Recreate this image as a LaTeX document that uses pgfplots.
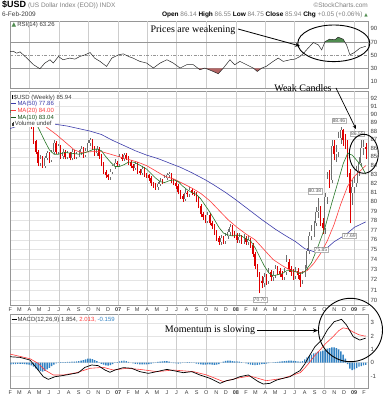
\documentclass[border=0pt]{standalone}
\usepackage{fontspec}
\setmainfont{Liberation Sans}
\newfontfamily\annfont{Liberation Serif}
\newfontfamily\symfont{DejaVu Sans}
\usepackage{pgfplots}
\usepackage{pgfplotstable}
\pgfplotsset{compat=1.18}
\usetikzlibrary{arrows.meta}

\definecolor{candred}{RGB}{222,0,0}
\definecolor{upgray}{RGB}{110,110,110}
\definecolor{ma50c}{RGB}{60,60,170}
\definecolor{ma20c}{RGB}{255,60,60}
\definecolor{ma10c}{RGB}{40,120,40}
\definecolor{histblue}{RGB}{50,130,195}
\definecolor{rsigreen}{RGB}{80,140,80}
\definecolor{rsired}{RGB}{180,100,100}
\definecolor{gridc}{RGB}{228,228,228}
\definecolor{vgridc}{RGB}{205,205,205}
\definecolor{framec}{RGB}{150,150,150}
\definecolor{txt}{RGB}{60,60,60}

% weekly candles, x = weeks since 3-Feb-2006 : open high low close
\pgfplotstableread[row sep=\\]{
x o h l c\\
0 90.2 90.9 90.0 90.6\\ 2 90.2 91.1 90.0 90.9\\ 4 90.4 91.0 90.2 90.8\\ 5 90.8 91.3 90.6 91.0\\
13 84.3 85.2 83.9 84.8\\ 15 84.0 85.1 83.7 84.9\\ 16 84.9 85.7 84.6 85.4\\ 18 84.6 85.8 84.4 85.5\\
19 85.5 87.0 85.3 86.6\\ 21 85.6 86.5 85.3 86.2\\ 23 85.1 85.9 84.8 85.6\\ 25 85.0 85.7 84.7 85.4\\
27 84.9 85.9 84.6 85.6\\ 29 85.0 85.6 84.7 85.3\\ 30 85.3 85.8 85.0 85.5\\ 31 85.5 86.2 85.2 85.9\\
33 85.2 86.0 85.0 85.7\\ 34 85.7 86.9 85.5 86.6\\ 35 86.6 87.2 86.3 86.9\\ 38 85.4 86.2 85.1 85.9\\
44 82.7 83.6 82.4 83.3\\ 45 83.3 84.1 83.1 83.9\\ 46 83.9 84.7 83.6 84.3\\ 48 84.2 85.3 84.0 85.0\\
50 84.8 85.4 84.5 85.2\\ 55 83.7 84.5 83.5 84.2\\ 58 83.2 83.9 82.9 83.6\\ 65 81.6 82.2 81.3 81.9\\
66 81.9 82.6 81.7 82.3\\ 68 82.2 82.9 82.0 82.6\\ 69 82.6 83.2 82.4 82.9\\ 70 82.9 83.3 82.6 83.0\\
77 80.3 81.4 80.1 81.0\\ 79 80.8 81.6 80.5 81.3\\ 87 78.0 78.9 77.7 78.6\\ 93 75.8 76.5 75.5 76.2\\
95 75.9 76.7 75.6 76.4\\ 96 76.4 77.1 76.1 76.8\\ 97 76.8 77.6 76.5 77.3\\ 101 76.0 76.7 75.7 76.3\\
103 75.9 76.6 75.6 76.2\\ 105 75.8 76.4 75.5 76.0\\ 112 71.7 72.7 71.3 72.3\\ 114 71.9 73.2 71.6 72.8\\
116 72.3 72.9 71.9 72.5\\ 117 72.5 73.5 72.2 73.1\\ 121 72.3 73.2 72.0 72.8\\ 122 72.8 74.5 72.5 73.8\\
126 72.4 73.3 72.1 72.9\\ 129 72.0 72.9 71.6 72.6\\ 130 72.6 73.5 72.3 73.2\\ 131 73.2 75.2 73.0 74.9\\
132 74.9 76.8 74.6 76.4\\ 133 76.4 77.5 76.0 76.9\\ 134 76.9 78.0 76.3 77.7\\ 135 77.7 79.4 77.4 78.9\\
136 78.9 80.38 78.3 79.0\\ 139 77.2 81.0 76.6 80.5\\ 140 80.5 83.3 79.8 82.5\\ 142 82.4 87.0 82.0 86.3\\
144 85.3 86.4 84.4 85.6\\ 145 85.6 87.9 85.0 87.2\\ 146 87.2 88.46 86.5 88.1\\ 151 81.0 82.4 79.7 81.6\\
152 81.6 82.8 80.9 82.0\\ 153 82.0 84.0 81.6 83.4\\ 154 83.4 85.0 82.8 84.3\\ 155 84.3 86.9 84.0 86.0\\
156 86.0 86.9 85.2 86.1\\
}\upc

\pgfplotstableread[row sep=\\]{
x o h l c\\
1 90.6 90.9 90.0 90.2\\ 3 90.9 91.1 90.2 90.4\\ 6 91.0 91.2 90.1 90.3\\ 7 90.3 90.5 89.6 89.8\\
8 89.8 90.1 89.4 89.6\\ 9 89.6 89.8 88.2 88.4\\ 10 88.4 88.6 86.5 86.8\\ 11 86.8 87.0 85.3 85.6\\
12 85.6 85.8 83.9 84.3\\ 14 84.8 85.1 83.7 84.0\\ 17 85.4 85.6 84.3 84.6\\ 20 86.6 86.8 85.3 85.6\\
22 86.2 86.4 84.8 85.1\\ 24 85.6 85.8 84.7 85.0\\ 26 85.4 85.6 84.6 84.9\\ 28 85.6 85.8 84.7 85.0\\
32 85.9 86.1 84.9 85.2\\ 36 86.9 87.1 85.8 86.0\\ 37 86.0 86.2 85.1 85.4\\ 39 85.9 86.1 84.8 85.1\\
40 85.1 85.3 83.9 84.2\\ 41 84.2 84.4 83.0 83.3\\ 42 83.3 83.5 82.6 82.9\\ 43 82.9 83.1 82.4 82.7\\
47 84.3 84.5 83.9 84.2\\ 49 85.0 85.3 84.5 84.8\\ 51 85.2 85.4 84.6 84.9\\ 52 84.9 85.1 84.1 84.4\\
53 84.4 84.6 83.7 84.0\\ 54 84.0 84.2 83.4 83.7\\ 56 84.2 84.4 83.1 83.4\\ 57 83.4 83.6 82.9 83.2\\
59 83.6 83.8 82.7 83.0\\ 60 83.0 83.2 82.6 82.9\\ 61 82.9 83.1 82.3 82.6\\ 62 82.6 82.8 81.7 82.0\\
63 82.0 82.2 81.5 81.8\\ 64 81.8 82.0 81.3 81.6\\ 67 82.3 82.5 81.9 82.2\\ 71 83.0 83.2 82.0 82.3\\
72 82.3 82.5 81.8 82.1\\ 73 82.1 82.3 81.4 81.7\\ 74 81.7 81.9 80.8 81.1\\ 75 81.1 81.3 80.3 80.6\\
76 80.6 80.8 80.0 80.3\\ 78 81.0 81.2 80.5 80.8\\ 80 81.3 81.5 80.7 81.0\\ 81 81.0 81.2 80.6 80.9\\
82 80.9 81.1 80.0 80.3\\ 83 80.3 80.5 79.3 79.6\\ 84 79.6 79.8 78.4 78.7\\ 85 78.7 78.9 78.1 78.4\\
86 78.4 78.6 77.7 78.0\\ 88 78.6 78.8 77.5 77.8\\ 89 77.8 78.0 77.1 77.4\\ 90 77.4 77.6 76.5 76.8\\
91 76.8 77.0 75.9 76.2\\ 92 76.2 76.4 75.5 75.8\\ 94 76.2 76.4 75.6 75.9\\ 98 77.3 77.5 76.4 76.7\\
99 76.7 76.9 76.2 76.5\\ 100 76.5 76.7 75.7 76.0\\ 102 76.3 76.5 75.6 75.9\\ 104 76.2 76.4 75.5 75.8\\
106 76.0 76.2 75.2 75.5\\ 107 75.5 75.7 74.3 74.6\\ 108 74.6 74.8 73.1 73.4\\ 109 73.4 73.6 72.3 72.6\\
110 72.6 72.8 70.70 71.9\\ 111 71.9 72.4 71.2 71.7\\ 113 72.3 72.6 71.5 71.9\\ 115 72.8 73.0 71.9 72.3\\
118 73.1 73.4 72.5 72.9\\ 119 72.9 73.2 72.3 72.6\\ 120 72.6 72.9 72.0 72.3\\ 123 73.8 74.1 72.8 73.1\\
124 73.1 73.4 72.4 72.8\\ 125 72.8 73.1 72.0 72.4\\ 127 72.9 73.2 72.1 72.5\\ 128 72.5 72.8 71.3 72.0\\
137 79.0 79.6 77.4 77.8\\ 138 77.8 78.3 76.6 77.2\\ 141 82.5 83.5 81.5 82.4\\ 143 86.3 87.0 84.6 85.3\\
147 88.1 88.3 86.3 86.9\\ 148 86.9 87.6 85.9 86.6\\ 149 86.6 87.0 82.7 83.2\\ 150 83.2 83.6 77.69 81.0\\
157 86.14 86.55 84.75 85.94\\
}\downc

\pgfplotstableread[row sep=\\]{
x y\\ -0.45 88.3\\ 5 88.8\\ 10 89.0\\ 15 89.0\\ 20 88.8\\ 25 88.6\\ 30 88.3\\ 35 88.0\\ 40 87.6\\
45 86.9\\ 50 86.3\\ 55 85.7\\ 60 85.2\\ 65 84.8\\ 70 84.3\\ 75 83.8\\ 80 83.2\\ 86 82.4\\ 90 81.8\\
95 81.0\\ 99 80.3\\ 105 79.2\\ 111 78.1\\ 117 77.1\\ 121 76.5\\ 126 75.8\\ 130 75.1\\ 134 74.8\\
139 75.0\\ 143 75.8\\ 148 76.5\\ 152 77.3\\ 157 77.86\\
}\mafifty

\pgfplotstableread[row sep=\\]{
x y\\ -0.45 90.0\\ 5 90.2\\ 10 89.9\\ 13 89.2\\ 16 88.4\\ 20 87.6\\ 24 86.7\\ 28 85.8\\ 31 85.5\\
36 85.6\\ 40 85.6\\ 44 85.3\\ 48 85.0\\ 52 84.7\\ 56 84.4\\ 60 84.0\\ 64 83.4\\ 68 82.8\\ 72 82.5\\
76 82.0\\ 80 81.5\\ 84 80.9\\ 88 80.1\\ 92 79.1\\ 96 78.1\\ 100 77.3\\ 104 76.6\\ 108 76.0\\
112 75.0\\ 116 74.0\\ 120 73.4\\ 124 72.9\\ 128 72.7\\ 131 72.9\\ 134 73.6\\ 137 74.6\\ 140 75.9\\
143 77.6\\ 146 79.8\\ 149 81.7\\ 152 82.8\\ 155 83.5\\ 157 84.0\\
}\matwenty

\pgfplotstableread[row sep=\\]{
x y\\ -0.45 90.5\\ 3 90.6\\ 6 90.6\\ 9 90.2\\ 11 89.0\\ 13 87.9\\ 15 86.8\\ 17 85.8\\ 19 85.3\\
21 85.3\\ 24 85.5\\ 27 85.4\\ 30 85.3\\ 33 85.5\\ 36 85.8\\ 38 85.9\\ 40 85.7\\ 42 85.0\\ 44 84.4\\
46 83.9\\ 48 83.9\\ 50 84.1\\ 52 84.4\\ 54 84.4\\ 56 84.2\\ 58 83.9\\ 60 83.6\\ 62 83.1\\ 64 82.6\\
66 82.2\\ 68 82.1\\ 70 82.3\\ 72 82.4\\ 74 82.2\\ 76 81.7\\ 78 81.3\\ 80 81.0\\ 82 80.8\\ 84 80.3\\
86 79.6\\ 88 78.9\\ 90 78.1\\ 92 77.3\\ 94 76.7\\ 96 76.5\\ 98 76.4\\ 100 76.5\\ 102 76.4\\
104 76.1\\ 106 75.9\\ 108 75.2\\ 110 74.3\\ 112 73.4\\ 114 72.7\\ 116 72.4\\ 118 72.5\\ 120 72.6\\
122 72.9\\ 124 72.9\\ 126 72.8\\ 128 72.6\\ 130 72.8\\ 133 73.7\\ 136 75.4\\ 139 77.3\\ 142 79.9\\
145 82.4\\ 147 84.2\\ 149 85.4\\ 151 85.2\\ 153 84.6\\ 155 84.0\\ 157 83.04\\
}\maten

\pgfplotstableread[row sep=\\]{
x y\\ -0.45 55.5\\ 1 56\\ 2.5 53\\ 4 55\\ 7 45.5\\ 10 35.4\\ 12.8 29.3\\ 15 38\\ 17.3 43\\ 18.7 38\\
21 48\\ 23 43\\ 26 45.5\\ 28.3 44\\ 30.5 48\\ 32.7 50.4\\ 35 54\\ 37 45.5\\ 39.4 40.5\\ 42.3 32.8\\
44.6 45.5\\ 47.5 50.4\\ 49.7 52\\ 52 48\\ 54 45.5\\ 57 40.5\\ 60 38\\ 63 30.4\\ 66 38\\ 69 43\\
71.8 38\\ 74.8 30.4\\ 77.7 35.4\\ 80.7 35.4\\ 83.6 27.8\\ 85.8 30.4\\ 89.5 25.2\\ 91.7 21.7\\
94 30.4\\ 96.9 43\\ 99 35.4\\ 101.3 40.5\\ 104.3 35.4\\ 107.2 30.4\\ 109 25.2\\ 111 30.4\\ 113 33\\
116 40.5\\ 118.3 45.5\\ 120.5 40.5\\ 123.5 43\\ 125.7 44\\ 127.9 48\\ 129.5 53\\ 131.5 60.7\\
133.8 69.2\\ 136 65.7\\ 137.5 58\\ 139 70.7\\ 141 74.3\\ 143.4 73.5\\ 144.8 77.4\\ 147 74.3\\
148.5 65.7\\ 150 50.5\\ 152 54\\ 154.4 60.7\\ 156.6 63.1\\ 157 63.26\\
}\rsidata

\pgfplotstableread[row sep=\\]{
x y\\ -0.45 0.45\\ 4 0.40\\ 8.4 0.20\\ 11.4 -0.42\\ 14.3 -1.05\\ 16.5 -1.25\\ 19.5 -1.05\\ 22.4 -0.98\\
26 -0.87\\ 29.8 -0.75\\ 32.7 -0.35\\ 35.7 -0.17\\ 38.6 -0.22\\ 41.6 -0.55\\ 43.8 -0.72\\ 46 -0.55\\
49.7 -0.37\\ 53.4 -0.42\\ 57 -0.67\\ 60.8 -0.80\\ 64.5 -0.67\\ 69 -0.50\\ 72.6 -0.62\\ 76.2 -0.75\\
80 -0.67\\ 83.6 -0.92\\ 88 -1.17\\ 92.5 -1.55\\ 95.4 -1.35\\ 98.4 -1.25\\ 101.3 -1.05\\ 105 -0.92\\
107.2 -1.17\\ 109.4 -1.42\\ 111.6 -1.60\\ 114.6 -1.55\\ 117.6 -1.30\\ 120.5 -1.17\\ 123.5 -1.05\\
125.7 -0.80\\ 127.9 -0.60\\ 130 -0.10\\ 132 0.50\\ 134.5 1.20\\ 137.5 1.70\\ 140 2.46\\ 143 3.08\\
146.3 3.26\\ 148.5 2.83\\ 151.5 1.95\\ 154.4 1.70\\ 156.6 1.83\\ 157 1.854\\
}\macd

\pgfplotstableread[row sep=\\]{
x y\\ -0.45 0.65\\ 8.4 0.30\\ 12 -0.05\\ 15 -0.55\\ 18.7 -0.92\\ 23.2 -0.92\\ 29 -0.75\\ 35 -0.42\\
40.9 -0.35\\ 45.3 -0.55\\ 51.2 -0.42\\ 57 -0.50\\ 64.5 -0.67\\ 71.8 -0.55\\ 80.7 -0.67\\ 86.6 -0.92\\
94 -1.42\\ 99.9 -1.17\\ 105.8 -1.00\\ 113 -1.35\\ 120.5 -1.17\\ 128 -0.75\\ 130 -0.40\\ 132 0.0\\
134 0.45\\ 136.7 0.95\\ 139 1.40\\ 142.5 1.95\\ 145 2.40\\ 147 2.62\\ 149 2.55\\ 151.5 2.30\\
154 2.10\\ 156.6 2.00\\ 157 2.013\\
}\sig

\pgfplotstableread[row sep=\\]{
x y\\
0 -0.12\\ 1 -0.10\\ 2 -0.10\\ 3 -0.08\\ 4 -0.08\\ 5 -0.08\\ 6 -0.10\\ 7 -0.12\\ 8 -0.15\\ 9 -0.20\\
10 -0.30\\ 11 -0.42\\ 12 -0.55\\ 13 -0.63\\ 14 -0.67\\ 15 -0.62\\ 16 -0.50\\ 17 -0.38\\ 18 -0.25\\ 19 -0.15\\
20 -0.05\\ 21 0.02\\ 22 0.04\\ 23 0.05\\ 24 0.05\\ 25 0.06\\ 26 0.07\\ 27 0.08\\ 28 0.08\\ 29 0.10\\
30 0.12\\ 31 0.15\\ 32 0.20\\ 33 0.25\\ 34 0.30\\ 35 0.30\\ 36 0.27\\ 37 0.20\\ 38 0.12\\ 39 0.03\\
40 -0.08\\ 41 -0.15\\ 42 -0.20\\ 43 -0.22\\ 44 -0.18\\ 45 -0.10\\ 46 -0.02\\ 47 0.05\\ 48 0.10\\ 49 0.14\\
50 0.15\\ 51 0.12\\ 52 0.06\\ 53 0.00\\ 54 -0.05\\ 55 -0.08\\ 56 -0.10\\ 57 -0.12\\ 58 -0.12\\ 59 -0.13\\
60 -0.12\\ 61 -0.10\\ 62 -0.07\\ 63 -0.03\\ 64 0.02\\ 65 0.06\\ 66 0.09\\ 67 0.10\\ 68 0.12\\ 69 0.12\\
70 0.08\\ 71 0.02\\ 72 -0.03\\ 73 -0.05\\ 74 -0.06\\ 75 -0.05\\ 76 -0.02\\ 77 0.02\\ 78 0.04\\ 79 0.05\\
80 0.03\\ 81 -0.02\\ 82 -0.06\\ 83 -0.10\\ 84 -0.12\\ 85 -0.14\\ 86 -0.15\\ 87 -0.13\\ 88 -0.12\\ 89 -0.14\\
90 -0.16\\ 91 -0.15\\ 92 -0.10\\ 93 0.00\\ 94 0.08\\ 95 0.14\\ 96 0.16\\ 97 0.15\\ 98 0.12\\ 99 0.10\\
100 0.10\\ 101 0.09\\ 102 0.05\\ 103 0.00\\ 104 -0.05\\ 105 -0.10\\ 106 -0.15\\ 107 -0.17\\ 108 -0.18\\ 109 -0.17\\
110 -0.14\\ 111 -0.10\\ 112 -0.08\\ 113 -0.06\\ 114 -0.03\\ 115 0.00\\ 116 0.03\\ 117 0.05\\ 118 0.06\\ 119 0.08\\
120 0.10\\ 121 0.12\\ 122 0.14\\ 123 0.15\\ 124 0.15\\ 125 0.14\\ 126 0.12\\ 127 0.10\\ 128 0.08\\ 129 0.12\\
130 0.25\\ 131 0.40\\ 132 0.50\\ 133 0.60\\ 134 0.70\\ 135 0.75\\ 136 0.85\\ 137 0.85\\ 138 0.90\\ 139 0.95\\
140 1.05\\ 141 1.10\\ 142 1.15\\ 143 1.15\\ 144 1.10\\ 145 1.00\\ 146 0.85\\ 147 0.60\\ 148 0.30\\ 149 -0.10\\
150 -0.45\\ 151 -0.55\\ 152 -0.50\\ 153 -0.40\\ 154 -0.30\\ 155 -0.25\\ 156 -0.20\\ 157 -0.16\\
}\hist

\pgfplotsset{
 chartbase/.style={
  scale only axis, width=358pt, xmin=-0.45, xmax=158,
  axis line style={framec, line width=0.5pt},
  tick style={draw=none}, minor tick style={draw=none},
  /pgf/number format/assume math mode=true,
  tick label style={font=\fontsize{6}{6}\selectfont, text=txt},
  yticklabel pos=right,
  yticklabel style={xshift=-1pt},
  grid style={gridc, line width=0.5pt},
  extra x ticks={8.14,21.14,34.29,47.43,60.29,73.29,86.43,99.57,112.57,125.57,138.71,151.86},
  extra x tick labels={},
  extra x tick style={grid=major, major grid style={vgridc, line width=0.5pt}},
 },
 months/.style={
  xtick={-0.29,3.71,8.14,12.43,16.86,21.14,25.57,30,34.29,38.71,43,47.43,51.86,55.86,60.29,64.57,69,73.29,77.71,82.14,86.43,90.86,95.14,99.57,104,108.14,112.57,116.86,121.29,125.57,130,134.43,138.71,143.14,147.43,151.86,156.29},
  xticklabels={F,M,A,M,J,J,A,S,O,N,D,\textbf{07},F,M,A,M,J,J,A,S,O,N,D,\textbf{08},F,M,A,M,J,J,A,S,O,N,D,\textbf{09},F},
  xticklabel style={font=\fontsize{5.5}{5.5}\selectfont, text=txt, yshift=1pt},
 },
 candlebars/.style={draw=none, mark=none, forget plot, error bars/.cd, y dir=plus, y explicit, error mark=none},
}
\tikzset{pricelbl/.style={draw=gray!60, fill=white, font=\fontsize{5}{5}\selectfont, text=gray!70!black, inner sep=0.8pt}}

\begin{document}
\begin{tikzpicture}[font=\fontsize{6.5}{7}\selectfont]
\path[use as bounding box] (0pt,0pt) rectangle (388pt,400pt);

% ---------------- RSI panel
\begin{axis}[chartbase, at={(10pt,312pt)}, anchor=south west, height=67pt,
  ymin=0, ymax=102, ytick={10,30,50,70,90}, xtick={200}]
 \addplot[framec, line width=0.6pt] coordinates {(-0.45,70) (158,70)};
 \addplot[framec, line width=0.6pt] coordinates {(-0.45,30) (158,30)};
 \addplot[framec, line width=0.5pt, dash pattern=on 3pt off 1.5pt on 0.8pt off 1.5pt] coordinates {(-0.45,50) (158,50)};
 % shaded overbought / oversold areas
 \addplot[fill=rsigreen, draw=none] coordinates {(138.92,70) (139,70.7) (141,74.3) (143.4,73.5) (144.8,77.4) (147,74.3) (147.75,70)} -- cycle;
 \addplot[fill=rsired, draw=none] coordinates {(82.76,30) (83.6,27.8) (85.46,30)} -- cycle;
 \addplot[fill=rsired, draw=none] coordinates {(86.08,30) (89.5,25.2) (91.7,21.7) (93.89,30)} -- cycle;
 \addplot[fill=rsired, draw=none] coordinates {(107.34,30) (109,25.2) (110.85,30)} -- cycle;
 \addplot[fill=rsired, draw=none] coordinates {(12.48,30) (12.8,29.3) (12.98,30)} -- cycle;
 \addplot[black!85, line width=0.5pt] table {\rsidata};
\end{axis}

% ---------------- Price panel
\begin{axis}[chartbase, months, at={(10pt,95pt)}, anchor=south west, height=214pt,
  ymode=log, ymin=69.6, ymax=92.9, ymajorgrids,
  ytick={70,71,72,73,74,75,76,77,78,79,80,81,82,83,84,85,86,87,88,89,90,91,92},
  yticklabel={\pgfmathparse{exp(\tick)}\pgfmathprintnumber[fixed,precision=0]{\pgfmathresult}}]
 % wicks
 \addplot[candlebars, error bar style={draw=candred, line width=0.45pt}]
   table[x=x, y=l, y error plus expr=\thisrow{h}-\thisrow{l}] {\downc};
 \addplot[candlebars, error bar style={draw=upgray, line width=0.45pt}]
   table[x=x, y=l, y error plus expr=\thisrow{h}-\thisrow{l}] {\upc};
 % bodies
 \addplot[candlebars, error bar style={draw=candred, line width=1.5pt}]
   table[x=x, y=c, y error plus expr=\thisrow{o}-\thisrow{c}] {\downc};
 \addplot[candlebars, error bar style={draw=upgray, line width=1.6pt}]
   table[x=x, y=o, y error plus expr=\thisrow{c}-\thisrow{o}] {\upc};
 \addplot[candlebars, error bar style={draw=white, line width=0.6pt}]
   table[x=x, y=o, y error plus expr=\thisrow{c}-\thisrow{o}] {\upc};
 % moving averages
 \addplot[ma50c, line width=0.6pt] table {\mafifty};
 \addplot[ma20c, line width=0.6pt] table {\matwenty};
 \addplot[ma10c, line width=0.6pt] table {\maten};
 % value labels
 \node[pricelbl] at (axis cs:145.1,89.2) {88.46};
 \node[pricelbl] at (axis cs:134.5,81.15) {80.38};
 \node[pricelbl] at (axis cs:137.2,74.95) {75.85};
 \node[pricelbl] at (axis cs:149.8,76.4) {77.69};
 \node[pricelbl] at (axis cs:110.2,70.1) {70.70};
 \node[pricelbl] at (axis cs:153.3,87.7) {86.55};
\end{axis}

% ---------------- MACD panel
\begin{axis}[chartbase, months, at={(10pt,12pt)}, anchor=south west, height=74pt,
  ymin=-1.9, ymax=3.66, ytick={-1,0,1,2,3}, ymajorgrids]
 \addplot[ybar, bar width=1.4pt, fill=histblue, draw=none] table {\hist};
 \addplot[ma20c, line width=0.6pt] table {\sig};
 \addplot[black, line width=0.7pt] table {\macd};
\end{axis}

% ---------------- headers and legends
\node[anchor=base west, inner sep=0pt] at (2pt,392pt)
  {{\fontsize{9}{9}\selectfont\bfseries \$USD}\ {\color{gray}(US Dollar Index (EOD)) INDX}};
\node[anchor=base east, inner sep=0pt, text=gray] at (368pt,392pt) {\textcopyright StockCharts.com};
\node[anchor=base west, inner sep=0pt, text=txt] at (2pt,383pt) {6-Feb-2009};
\node[anchor=base east, inner sep=0pt] at (368pt,383pt)
  {\textbf{Open} {\color{gray}86.14} \textbf{High} {\color{gray}86.55} \textbf{Low} {\color{gray}84.75} \textbf{Close} {\color{gray}85.94} \textbf{Chg} {\color{gray}+0.05 (+0.06\%)} {\symfont\color{rsigreen}\fontsize{4.5}{5}\selectfont ▲}};
\node[anchor=west, inner sep=0.5pt, text=txt, font=\fontsize{6}{6}\selectfont] at (11pt,375pt)
  {{\symfont\color{rsigreen}▲}\,RSI(14) 63.26};

\node[anchor=north west, fill=white, inner sep=0.8pt, align=left, font=\fontsize{6}{6.7}\selectfont] at (10.5pt,306pt)
  {{\color{black}\rule[0.3pt]{1.2pt}{4pt}}\,{\color{txt}\$USD (Weekly) 85.94}};
\node[anchor=north west, fill=white, inner sep=0.8pt, align=left, font=\fontsize{6}{6.7}\selectfont] at (10.5pt,299.6pt)
  {{\color{ma50c}\rule[1.8pt]{5pt}{0.7pt}\,MA(50) 77.86}\\
   {\color{ma20c}\rule[1.8pt]{5pt}{0.7pt}\,MA(20) 84.00}\\
   {\color{ma10c!70!black}\rule[1.8pt]{5pt}{0.7pt}\,MA(10) 83.04}\\
   {\color{txt}\rule[0.3pt]{1.2pt}{3pt}\rule[0.3pt]{1.2pt}{4pt}\,Volume undef}};

\node[anchor=west, inner sep=0.5pt, font=\fontsize{6}{6}\selectfont] at (11pt,80pt)
  {\rule[1.8pt]{5pt}{0.8pt}\,{\color{txt}MACD(12,26,9) 1.854,} {\color{ma20c}2.013,} {\color{histblue}-0.159}};

% ---------------- annotations
\node[font=\annfont\fontsize{10}{10}\selectfont] at (193pt,370pt) {Prices are weakening};
\draw[line width=0.8pt, -{Stealth[length=5pt,width=4pt]}] (238pt,371pt) -- (300pt,354pt);
\draw[line width=0.9pt] (333.8pt,356.7pt) ellipse [x radius=36pt, y radius=18.3pt];

\node[font=\annfont\fontsize{10}{10}\selectfont] at (303pt,312pt) {Weak Candles};
\draw[line width=0.7pt, -{Stealth[length=4pt,width=3.5pt]}] (336pt,312pt) -- (356pt,271pt);
\draw[line width=0.9pt] (363.8pt,246.2pt) ellipse [x radius=14.5pt, y radius=19.5pt];

\node[font=\annfont\fontsize{10}{10}\selectfont] at (210pt,70pt) {Momentum is slowing};
\draw[line width=0.7pt, -{Stealth[length=5pt,width=4pt]}] (257pt,69.5pt) -- (318pt,69.5pt);
\draw[line width=0.9pt] (350.5pt,70pt) ellipse [x radius=32pt, y radius=31.7pt];
\end{tikzpicture}
\end{document}
